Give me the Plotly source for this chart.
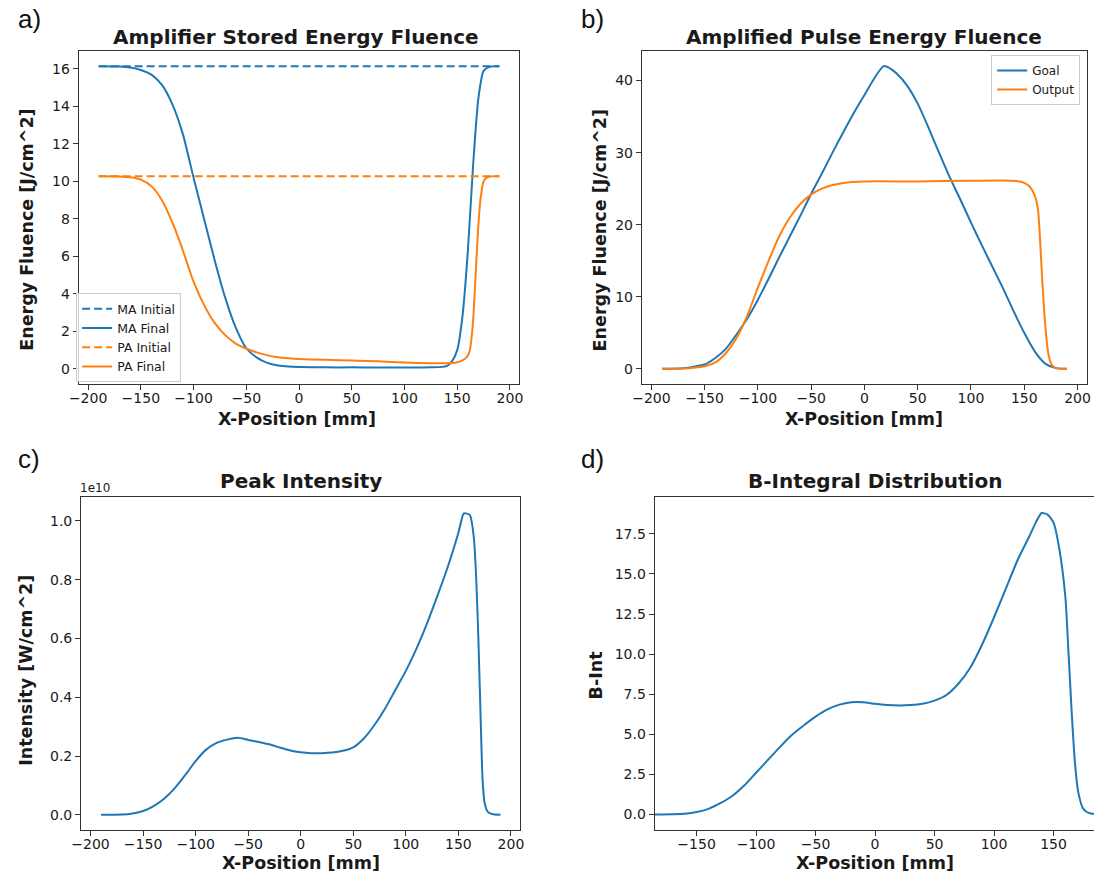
import plotly.graph_objects as go

BLUE = "#1f77b4"
ORANGE = "#ff7f0e"
W, H = 1098, 877

# ---------------- data ----------------
# Panel a: Amplifier Stored Energy Fluence
a_init_x = [-190, 190]
ma_initial = [16.15, 16.15]
pa_initial = [10.28, 10.28]

ma_final_x = [-190, -170, -160, -150, -140, -130, -120, -110, -100, -90, -80, -70, -60, -50,
              -40, -30, -20, -10, 0, 25, 50, 75, 100, 125, 140, 145, 150, 155, 160, 165,
              170, 175, 180, 185, 190]
ma_final = [16.15, 16.13, 16.08, 15.95, 15.7, 15.15, 14.1, 12.5, 10.2, 8.0, 5.8, 3.8, 2.2, 1.1,
            0.6, 0.32, 0.18, 0.12, 0.1, 0.08, 0.08, 0.07, 0.07, 0.08, 0.15, 0.4, 1.0, 2.8, 6.2,
            10.8, 14.4, 15.9, 16.1, 16.15, 16.15]

pa_final_x = [-190, -170, -160, -150, -140, -130, -120, -110, -100, -90, -80, -70, -60, -50,
              -40, -30, -20, -10, 0, 25, 50, 75, 100, 125, 140, 145, 150, 155, 160, 162,
              165, 167, 168, 170, 172, 175, 178, 182, 190]
pa_final = [10.28, 10.27, 10.22, 10.1, 9.75, 9.0, 7.8, 6.3, 4.65, 3.4, 2.45, 1.8, 1.35, 1.08,
            0.88, 0.72, 0.62, 0.56, 0.52, 0.48, 0.45, 0.4, 0.34, 0.3, 0.3, 0.31, 0.35, 0.45,
            0.7, 1.0, 2.5, 4.5, 5.6, 7.6, 9.0, 10.0, 10.2, 10.27, 10.28]

# Panel b: Amplified Pulse Energy Fluence
goal_x = [-190, -170, -160, -150, -140, -130, -120, -110, -100, -90, -80, -70, -60, -50, -40,
          -30, -20, -10, 0, 10, 18, 25, 30, 40, 50, 60, 70, 80, 90, 100, 110, 120, 130, 140,
          150, 160, 170, 180, 190]
goal = [0.0, 0.1, 0.3, 0.6, 1.5, 2.8, 4.8, 7.0, 9.6, 12.5, 15.5, 18.4, 21.3, 24.3, 27.1,
        30.0, 32.8, 35.5, 38.0, 40.5, 42.0, 41.6, 41.0, 39.3, 36.8, 33.5, 30.0, 26.6, 23.5,
        20.3, 17.2, 14.2, 11.2, 8.0, 5.0, 2.4, 0.7, 0.1, 0.0]

output_x = [-190, -170, -160, -150, -140, -130, -120, -110, -100, -90, -80, -70, -60, -50,
            -40, -30, -20, 0, 50, 100, 140, 150, 155, 160, 163, 165, 167, 169, 171, 173, 175,
            178, 182, 190]
output = [0.0, 0.05, 0.15, 0.35, 0.9, 2.2, 4.3, 7.4, 11.3, 15.0, 18.4, 21.0, 22.9, 24.2,
          25.0, 25.5, 25.8, 26.0, 26.0, 26.1, 26.1, 25.8, 25.3, 24.0, 22.0, 17.5, 12.0, 7.5,
          4.0, 1.8, 0.8, 0.2, 0.05, 0.0]

# Panel c: Peak Intensity (W/cm^2), in units of 1e10
peak_x = [-190, -170, -160, -150, -140, -130, -120, -110, -100, -90, -80, -70, -60, -50, -40,
          -30, -20, -10, 0, 10, 20, 30, 40, 50, 60, 70, 80, 90, 100, 110, 120, 130, 140, 150,
          155, 158, 161, 163, 165, 167, 169, 171, 173, 175, 178, 182, 190]
peak = [0.0, 0.001, 0.005, 0.013, 0.03, 0.055, 0.09, 0.135, 0.183, 0.222, 0.245, 0.256,
        0.262, 0.255, 0.248, 0.24, 0.229, 0.219, 0.213, 0.21, 0.21, 0.212, 0.218, 0.23, 0.26,
        0.305, 0.36, 0.425, 0.49, 0.565, 0.65, 0.745, 0.845, 0.96, 1.025, 1.025, 1.02, 0.99,
        0.93, 0.8, 0.6, 0.35, 0.12, 0.04, 0.01, 0.003, 0.0]
peak_scale = 1e10

# Panel d: B-Integral Distribution
bint_x = [-190, -170, -160, -150, -140, -130, -120, -110, -100, -90, -80, -70, -60, -50, -40,
          -30, -20, -10, 0, 10, 20, 30, 40, 50, 60, 70, 80, 90, 100, 110, 120, 127, 130,
          135, 140, 145, 150, 155, 160, 162, 165, 168, 171, 175, 180, 190]
bint = [0.0, 0.02, 0.05, 0.15, 0.35, 0.7, 1.15, 1.8, 2.6, 3.4, 4.2, 4.95, 5.55, 6.1, 6.55,
        6.85, 7.0, 7.0, 6.9, 6.83, 6.8, 6.82, 6.9, 7.1, 7.45, 8.15, 9.15, 10.6, 12.3, 14.1,
        15.9, 16.95, 17.4, 18.2, 18.8, 18.7, 18.2, 16.5, 13.5, 10.9, 6.7, 3.2, 1.3, 0.35, 0.08,
        0.0]

# tick labels
x_ticks = [-200, -150, -100, -50, 0, 50, 100, 150, 200]
x_tick_labels = ["\u2212200", "\u2212150", "\u2212100", "\u221250", "0", "50", "100", "150", "200"]
d_x_ticks = [-150, -100, -50, 0, 50, 100, 150]
d_x_tick_labels = ["\u2212150", "\u2212100", "\u221250", "0", "50", "100", "150"]
a_y_ticks = [0, 2, 4, 6, 8, 10, 12, 14, 16]
a_y_tick_labels = ["0", "2", "4", "6", "8", "10", "12", "14", "16"]
b_y_ticks = [0, 10, 20, 30, 40]
b_y_tick_labels = ["0", "10", "20", "30", "40"]
c_y_ticks = [0.0, 0.2, 0.4, 0.6, 0.8, 1.0]
c_y_tick_labels = ["0.0", "0.2", "0.4", "0.6", "0.8", "1.0"]
d_y_ticks = [0.0, 2.5, 5.0, 7.5, 10.0, 12.5, 15.0, 17.5]
d_y_tick_labels = ["0.0", "2.5", "5.0", "7.5", "10.0", "12.5", "15.0", "17.5"]

# ---------------- figure ----------------
FONT = "DejaVu Sans"
TXT = "#1a1a1a"


def dom_x(l, r):
    return [l / W, r / W]


def dom_y(t, b):
    return [1 - b / H, 1 - t / H]


fig = go.Figure()
LW = 2
SPL = dict(shape="spline", smoothing=0.6)

# panel a
fig.add_trace(go.Scatter(x=a_init_x, y=ma_initial, mode="lines", name="MA Initial",
                         line=dict(color=BLUE, width=LW, dash="8px,4px"),
                         xaxis="x", yaxis="y", legend="legend"))
fig.add_trace(go.Scatter(x=ma_final_x, y=ma_final, mode="lines", name="MA Final",
                         line=dict(color=BLUE, width=LW, **SPL),
                         xaxis="x", yaxis="y", legend="legend"))
fig.add_trace(go.Scatter(x=a_init_x, y=pa_initial, mode="lines", name="PA Initial",
                         line=dict(color=ORANGE, width=LW, dash="8px,4px"),
                         xaxis="x", yaxis="y", legend="legend"))
fig.add_trace(go.Scatter(x=pa_final_x, y=pa_final, mode="lines", name="PA Final",
                         line=dict(color=ORANGE, width=LW, **SPL),
                         xaxis="x", yaxis="y", legend="legend"))
# panel b
fig.add_trace(go.Scatter(x=goal_x, y=goal, mode="lines", name="Goal",
                         line=dict(color=BLUE, width=LW, **SPL),
                         xaxis="x2", yaxis="y2", legend="legend2"))
fig.add_trace(go.Scatter(x=output_x, y=output, mode="lines", name="Output",
                         line=dict(color=ORANGE, width=LW, **SPL),
                         xaxis="x2", yaxis="y2", legend="legend2"))
# panel c
fig.add_trace(go.Scatter(x=peak_x, y=[v * peak_scale for v in peak], mode="lines",
                         line=dict(color=BLUE, width=LW, **SPL),
                         xaxis="x3", yaxis="y3", showlegend=False))
# panel d
fig.add_trace(go.Scatter(x=bint_x, y=bint, mode="lines",
                         line=dict(color=BLUE, width=LW, **SPL),
                         xaxis="x4", yaxis="y4", showlegend=False))

tickfont = dict(family=FONT, size=14, color=TXT)
common = dict(showgrid=False, zeroline=False, showline=True, linecolor="#333", linewidth=1,
              ticks="outside", ticklen=5, tickwidth=1, tickcolor="#333", tickfont=tickfont,
              tickmode="array")
xcommon = dict(common, ticklabelstandoff=-4)

fig.update_layout(
    width=W, height=H, margin=dict(l=0, r=0, t=0, b=0),
    paper_bgcolor="white", plot_bgcolor="white",
    font=dict(family=FONT, color=TXT),
    xaxis=dict(domain=dom_x(69.5, 516), range=[-209, 209], tickvals=x_ticks,
               ticktext=x_tick_labels, mirror=True, anchor="y", **xcommon),
    yaxis=dict(domain=dom_y(51, 384), range=[-0.8075, 16.96], tickvals=a_y_ticks,
               ticktext=a_y_tick_labels, mirror=True, anchor="x", **common),
    xaxis2=dict(domain=dom_x(640, 1091), range=[-209, 209], tickvals=x_ticks,
                ticktext=x_tick_labels, mirror=True, anchor="y2", **xcommon),
    yaxis2=dict(domain=dom_y(51, 384), range=[-2.1, 44.1], tickvals=b_y_ticks,
                ticktext=b_y_tick_labels, mirror=True, anchor="x2", **common),
    xaxis3=dict(domain=dom_x(72, 517), range=[-209, 209], tickvals=x_ticks,
                ticktext=x_tick_labels, mirror=True, anchor="y3", **xcommon),
    yaxis3=dict(domain=dom_y(497, 830), range=[-0.0515 * peak_scale, 1.0815 * peak_scale],
                tickvals=[v * peak_scale for v in c_y_ticks], ticktext=c_y_tick_labels,
                mirror=True, anchor="x3", **common),
    xaxis4=dict(domain=dom_x(653, 1098), range=[-185.2, 184.0], tickvals=d_x_ticks,
                ticktext=d_x_tick_labels, mirror=True, anchor="y4", **xcommon),
    yaxis4=dict(domain=dom_y(497, 830), range=[-0.97, 19.8], tickvals=d_y_ticks,
                ticktext=d_y_tick_labels, mirror=False, anchor="x4", **common),
    legend=dict(x=67 / W, y=1 - 382 / H, xanchor="left", yanchor="bottom",
                bgcolor="rgba(255,255,255,0.8)", bordercolor="#cccccc", borderwidth=1,
                font=dict(family=FONT, size=12.5, color=TXT), itemwidth=30,
                tracegroupgap=0),
    legend2=dict(x=1084 / W, y=1 - 55 / H, xanchor="right", yanchor="top",
                 bgcolor="rgba(255,255,255,0.8)", bordercolor="#cccccc", borderwidth=1,
                 font=dict(family=FONT, size=12, color=TXT), itemwidth=30),
    showlegend=True,
)

annotations = []


def ann(text, x, y, size, bold=False, angle=0, family=FONT, color=TXT, xanchor="center"):
    annotations.append(dict(
        text=f"<b>{text}</b>" if bold else text, x=x / W, y=1 - y / H, xref="paper",
        yref="paper", showarrow=False, xanchor=xanchor, yanchor="middle", textangle=angle,
        font=dict(family=family, size=size, color=color)))


# titles
ann("Amplifier Stored Energy Fluence", 290, 37, 20, bold=True)
ann("Amplified Pulse Energy Fluence", 865.5, 37, 20, bold=True)
ann("Peak Intensity", 294.5, 481, 20, bold=True)
ann("B-Integral Distribution", 876, 481, 20, bold=True)
# x labels
ann("X-Position [mm]", 291, 419, 17.5, bold=True)
ann("X-Position [mm]", 865.5, 419, 17.5, bold=True)
ann("X-Position [mm]", 294.5, 863, 17.5, bold=True)
ann("X-Position [mm]", 876, 863, 17.5, bold=True)
# y labels
ann("Energy Fluence [J/cm^2]", 17, 230, 17.5, bold=True, angle=-90)
ann("Energy Fluence [J/cm^2]", 598, 230, 17.5, bold=True, angle=-90)
ann("Intensity [W/cm^2]", 16, 670, 17.5, bold=True, angle=-90)
ann("B-Int", 594, 675, 17.5, bold=True, angle=-90)
# offset text
ann("1e10", 69, 488, 12, xanchor="left")
# panel letters
ann("a)", 6, 19, 26, family="Liberation Sans", color="#111", xanchor="left")
ann("b)", 576, 19, 26, family="Liberation Sans", color="#111", xanchor="left")
ann("c)", 6, 459, 26, family="Liberation Sans", color="#111", xanchor="left")
ann("d)", 576, 459, 26, family="Liberation Sans", color="#111", xanchor="left")

fig.update_layout(annotations=annotations)

fig.write_html("out.html")
